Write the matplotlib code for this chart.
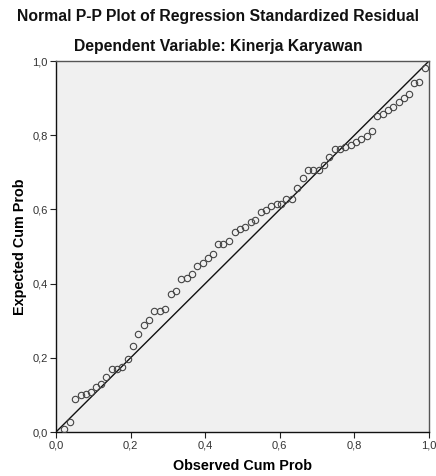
import matplotlib

matplotlib.use("Agg")
import matplotlib.pyplot as plt
from matplotlib.ticker import FixedLocator, FuncFormatter

plt.rcParams["font.family"] = ["Liberation Sans", "DejaVu Sans"]

TITLE = "Normal P-P Plot of Regression Standardized Residual"
SUBTITLE = "Dependent Variable: Kinerja Karyawan"
X_LABEL = "Observed Cum Prob"
Y_LABEL = "Expected Cum Prob"

observed = [
    0.021, 0.037, 0.051, 0.066, 0.080, 0.094, 0.107, 0.122, 0.135, 0.149,
    0.164, 0.178, 0.192, 0.206, 0.221, 0.235, 0.249, 0.264, 0.279, 0.293,
    0.308, 0.322, 0.336, 0.350, 0.365, 0.379, 0.393, 0.407, 0.420, 0.435,
    0.449, 0.463, 0.480, 0.493, 0.507, 0.522, 0.534, 0.549, 0.562, 0.576,
    0.592, 0.604, 0.618, 0.633, 0.646, 0.661, 0.675, 0.690, 0.704, 0.718,
    0.733, 0.747, 0.761, 0.776, 0.790, 0.804, 0.819, 0.833, 0.846, 0.861,
    0.876, 0.890, 0.904, 0.919, 0.933, 0.946, 0.961, 0.974, 0.989,
]
expected = [
    0.008, 0.028, 0.089, 0.099, 0.102, 0.109, 0.121, 0.130, 0.147, 0.170,
    0.171, 0.174, 0.197, 0.232, 0.265, 0.289, 0.302, 0.326, 0.326, 0.332,
    0.373, 0.379, 0.412, 0.414, 0.427, 0.447, 0.455, 0.468, 0.480, 0.507,
    0.507, 0.516, 0.540, 0.547, 0.553, 0.567, 0.571, 0.594, 0.598, 0.609,
    0.615, 0.615, 0.627, 0.628, 0.658, 0.685, 0.705, 0.706, 0.706, 0.720,
    0.740, 0.762, 0.762, 0.767, 0.774, 0.781, 0.791, 0.797, 0.811, 0.853,
    0.857, 0.868, 0.877, 0.890, 0.899, 0.910, 0.941, 0.943, 0.980,
]
ticks = [0.0, 0.2, 0.4, 0.6, 0.8, 1.0]


def comma_decimal(value, _pos):
    return f"{value:.1f}".replace(".", ",")


fig = plt.figure(figsize=(4.36, 4.76), dpi=100)
fig.patch.set_facecolor("white")
ax = fig.add_axes([0.1284, 0.0924, 0.8555, 0.7794])
ax.set_facecolor("#f0f0f0")

# reference diagonal and the residual points
ax.plot([0, 1], [0, 1], color="#111111", linewidth=1.0, zorder=2)
ax.plot(
    observed,
    expected,
    linestyle="none",
    marker="o",
    markersize=4.6,
    markerfacecolor="none",
    markeredgecolor="#444444",
    markeredgewidth=0.8,
    zorder=3,
)

ax.set_xlim(0, 1)
ax.set_ylim(0, 1)
for axis in (ax.xaxis, ax.yaxis):
    axis.set_major_locator(FixedLocator(ticks))
    axis.set_major_formatter(FuncFormatter(comma_decimal))
ax.tick_params(
    direction="out", length=4, width=0.8, color="#222222",
    labelsize=8, labelcolor="#333333", pad=2,
)

for side in ("left", "bottom"):
    ax.spines[side].set_color("#111111")
    ax.spines[side].set_linewidth(1.0)
for side in ("top", "right"):
    ax.spines[side].set_color("#555555")
    ax.spines[side].set_linewidth(1.0)

ax.set_xlabel(X_LABEL, fontsize=10.4, fontweight="bold", labelpad=6)
ax.set_ylabel(Y_LABEL, fontsize=10.4, fontweight="bold", labelpad=4)

fig.text(0.5, 1 - 17 / 476, TITLE, ha="center", va="center",
         fontsize=11.3, fontweight="bold", color="#111111")
fig.text(0.5, 1 - 47 / 476, SUBTITLE, ha="center", va="center",
         fontsize=11.3, fontweight="bold", color="#111111")

fig.savefig("out.png", dpi=100)
